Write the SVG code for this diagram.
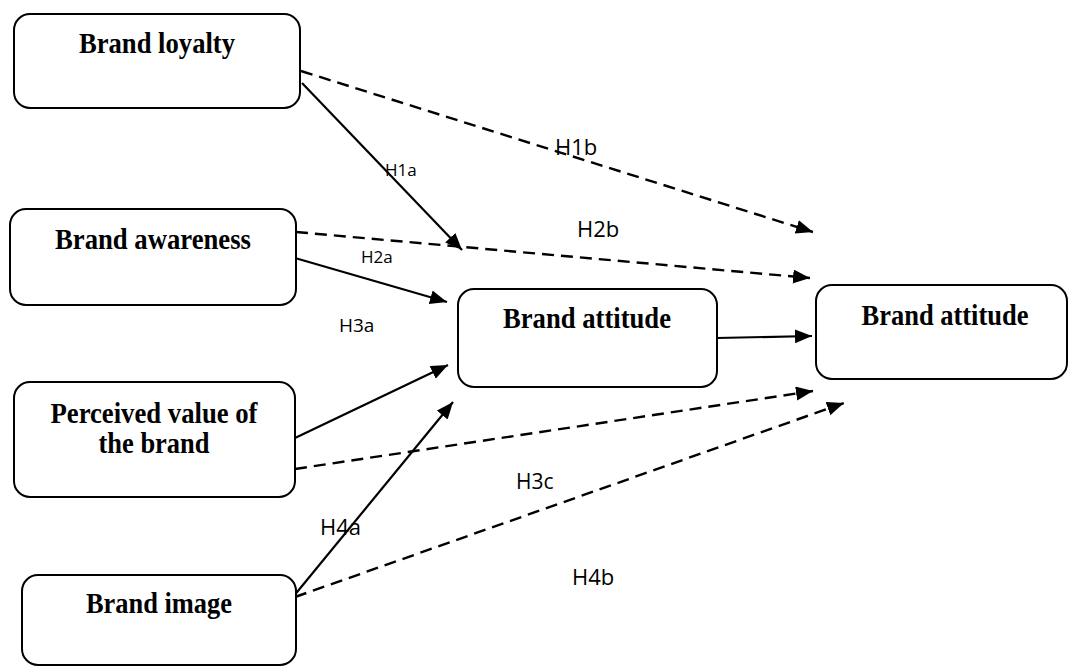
<svg xmlns="http://www.w3.org/2000/svg" width="1068" height="668" viewBox="0 0 1068 668">
<style>
.box{fill:#fff;stroke:#000;stroke-width:2}
.t{font-family:"Liberation Serif","Times New Roman",serif;font-weight:bold;font-size:28.5px;fill:#000;text-anchor:middle}
.lab{font-family:"Open Sans","Noto Sans",sans-serif;fill:#000}
.s{stroke:#000;stroke-width:2.2;fill:none;marker-end:url(#ah)}
.d{stroke:#000;stroke-width:2.4;fill:none;stroke-dasharray:12 7;marker-end:url(#ah)}
</style>
<defs>
<marker id="ah" markerUnits="userSpaceOnUse" markerWidth="20" markerHeight="16" refX="17" refY="7" orient="auto">
<path d="M0,0 L17,7 L0,14 z" fill="#000"/>
</marker>
</defs>
<rect width="1068" height="668" fill="#fff"/>
<g id="connectors">
<line class="s" x1="302" y1="83" x2="462" y2="250"/>
<line class="d" x1="301" y1="71" x2="813" y2="232"/>
<line class="d" x1="296" y1="232" x2="810" y2="278"/>
<line class="s" x1="295" y1="258" x2="447" y2="302"/>
<line class="s" x1="295" y1="438" x2="448" y2="365"/>
<line class="d" x1="295" y1="469" x2="813" y2="391"/>
<line class="s" x1="293" y1="597" x2="453" y2="402"/>
<line class="d" x1="295" y1="597" x2="844" y2="403"/>
<line class="s" x1="717" y1="338" x2="812" y2="336"/>
<text class="lab" x="385" y="176" font-size="17">H1a</text>
<text class="lab" x="555" y="155" font-size="22">H1b</text>
<text class="lab" x="577" y="237" font-size="22">H2b</text>
<text class="lab" x="361" y="263" font-size="17">H2a</text>
<text class="lab" x="339" y="332" font-size="19">H3a</text>
<text class="lab" x="516" y="489" font-size="21">H3c</text>
<text class="lab" x="320" y="535" font-size="22">H4a</text>
<text class="lab" x="572" y="585" font-size="22">H4b</text>
</g>
<g id="brand-loyalty">
<rect class="box" x="14" y="14" width="286" height="94" rx="16"/>
<text class="t" x="157" y="53" textLength="156" lengthAdjust="spacingAndGlyphs">Brand loyalty</text>
</g>
<g id="brand-awareness">
<rect class="box" x="10" y="209" width="286" height="96" rx="16"/>
<text class="t" x="153" y="249" textLength="196" lengthAdjust="spacingAndGlyphs">Brand awareness</text>
</g>
<g id="perceived-value">
<rect class="box" x="14" y="382" width="281" height="115" rx="16"/>
<text class="t" x="154" y="423" textLength="207" lengthAdjust="spacingAndGlyphs">Perceived value of</text>
<text class="t" x="154" y="453" textLength="111" lengthAdjust="spacingAndGlyphs">the brand</text>
</g>
<g id="brand-image">
<rect class="box" x="22" y="575" width="274" height="90" rx="16"/>
<text class="t" x="159" y="613" textLength="146" lengthAdjust="spacingAndGlyphs">Brand image</text>
</g>
<g id="brand-attitude-mid">
<rect class="box" x="458" y="289" width="259" height="98" rx="16"/>
<text class="t" x="587" y="328" textLength="168" lengthAdjust="spacingAndGlyphs">Brand attitude</text>
</g>
<g id="brand-attitude-right">
<rect class="box" x="816" y="285" width="251" height="94" rx="16"/>
<text class="t" x="945" y="325" textLength="167" lengthAdjust="spacingAndGlyphs">Brand attitude</text>
</g>
</svg>
